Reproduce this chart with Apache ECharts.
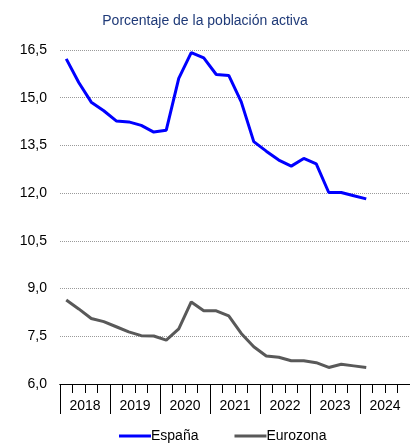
<!DOCTYPE html>
<html>
<head>
<meta charset="utf-8">
<script src="https://cdn.jsdelivr.net/npm/echarts@6/dist/echarts.min.js"></script>
<style>
  html, body { margin: 0; padding: 0; background: #fff; }
  #chart { width: 410px; height: 443px; }
</style>
</head>
<body>
<div id="chart"></div>
<script>
// Unemployment rate, % of labour force (quarterly)
const years = ['2018', '2019', '2020', '2021', '2022', '2023', '2024'];
const quarters = [];
years.forEach(y => ['T1', 'T2', 'T3', 'T4'].forEach(q => quarters.push(y + q)));

const espana = [
  16.22, 15.48, 14.86, 14.59,
  14.27, 14.24, 14.13, 13.92,
  13.98, 15.61, 16.42, 16.25,
  15.73, 15.70, 14.87, 13.62,
  13.32, 13.04, 12.85, 13.09,
  12.92, 12.02, 12.02, 11.92,
  11.82
];

const eurozona = [
  8.64, 8.36, 8.06, 7.96,
  7.80, 7.64, 7.52, 7.51,
  7.38, 7.73, 8.58, 8.30,
  8.30, 8.14, 7.59, 7.17,
  6.88, 6.84, 6.73, 6.73,
  6.67, 6.52, 6.62, 6.57,
  6.52
];

const yTicks = { min: 6, max: 16.5, step: 1.5 };

const chart = echarts.init(document.getElementById('chart'), null, { renderer: 'canvas' });

const font = 'Liberation Sans, Arial, sans-serif';
const plotRect = { left: 60, top: 50, width: 358, height: 334 };

chart.setOption({
  animation: false,
  backgroundColor: '#ffffff',
  title: {
    text: 'Porcentaje de la población activa',
    left: 'center',
    top: 9,
    textStyle: { fontFamily: font, fontSize: 14, fontWeight: 'normal', color: '#1f3a78' }
  },
  legend: {
    left: 114,
    top: 424,
    itemWidth: 32,
    itemHeight: 3,
    itemGap: 36,
    icon: 'rect',
    textStyle: { fontFamily: font, fontSize: 14, color: '#000', padding: [0, 0, 0, -5] },
    data: ['España', 'Eurozona']
  },
  // grid 0: data + value axis + quarter ticks; grid 1: year ticks and labels
  grid: [
    Object.assign({ containLabel: false }, plotRect),
    Object.assign({ containLabel: false }, plotRect)
  ],
  xAxis: [
    {
      type: 'category',
      gridIndex: 0,
      data: quarters,
      boundaryGap: true,
      position: 'bottom',
      axisLine: { show: true, lineStyle: { color: '#000', width: 1 } },
      axisTick: { show: true, length: 9, interval: 0, lineStyle: { color: '#000', width: 1 } },
      // tiny invisible quarter labels keep a tick under every quarter
      axisLabel: {
        show: true, interval: 0, hideOverlap: false,
        fontSize: 2, color: 'rgba(0,0,0,0)', formatter: () => '.'
      },
      splitLine: { show: false }
    },
    {
      type: 'category',
      gridIndex: 1,
      data: years,
      boundaryGap: true,
      position: 'bottom',
      axisLine: { show: true, lineStyle: { color: '#000', width: 1 } },
      axisTick: { show: true, length: 30, interval: 0, lineStyle: { color: '#000' } },
      axisLabel: {
        show: true, interval: 0, margin: 15, hideOverlap: false,
        fontFamily: font, fontSize: 14, color: '#000'
      },
      splitLine: { show: false }
    }
  ],
  yAxis: [
    {
      type: 'value',
      gridIndex: 0,
      min: yTicks.min,
      max: yTicks.max,
      interval: yTicks.step,
      axisLine: { show: false },
      axisTick: { show: false },
      axisLabel: {
        margin: 13,
        fontFamily: font, fontSize: 14, color: '#000',
        formatter: v => v.toFixed(1).replace('.', ',')
      },
      splitLine: { show: true, lineStyle: { color: '#9a9a9a', type: 'dotted', width: 1 } }
    },
    {
      type: 'value',
      gridIndex: 1,
      min: yTicks.min,
      max: yTicks.max,
      show: false
    }
  ],
  series: [
    {
      name: 'España',
      type: 'line',
      xAxisIndex: 0,
      yAxisIndex: 0,
      data: espana,
      symbol: 'none',
      lineStyle: { color: '#0000ff', width: 3 },
      itemStyle: { color: '#0000ff' },
      z: 3
    },
    {
      name: 'Eurozona',
      type: 'line',
      xAxisIndex: 0,
      yAxisIndex: 0,
      data: eurozona,
      symbol: 'none',
      lineStyle: { color: '#595959', width: 3 },
      itemStyle: { color: '#595959' },
      z: 2
    }
  ]
});
</script>
</body>
</html>
